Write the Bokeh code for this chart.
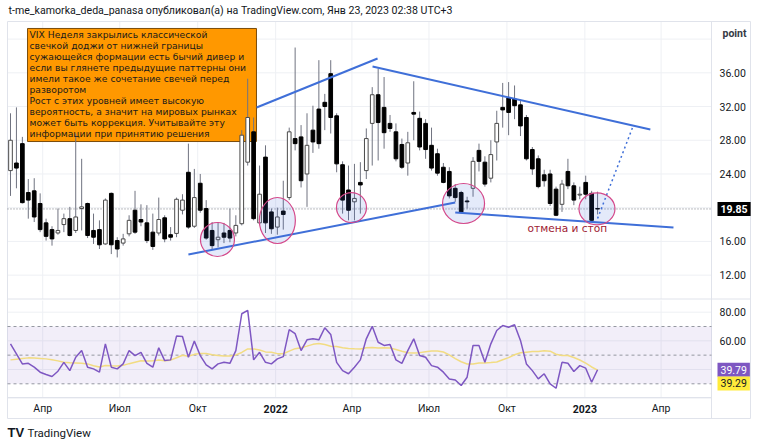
import pandas as pd
from bokeh.plotting import figure
from bokeh.models import Range1d, Label, ColumnDataSource
from bokeh.core.properties import value
from bokeh.embed import file_html
from bokeh.resources import INLINE

# ---------------- data (weekly VIX candles) ----------------
start_date = "2021-02-22"

opens = [24.4, 25.3, 27.6, 21.8, 22.0, 20.5, 18.2, 17.4, 17.0, 18.0,
         18.7, 17.3, 19.9, 20.5, 17.3, 17.4, 15.7, 21.7, 16.1, 15.8,
         16.9, 19.7, 18.6, 18.2, 17.1, 17.0, 18.8, 16.8, 16.95, 19.7,
         24.2, 17.8, 22.9, 19.9, 17.3, 16.2, 17.0, 17.3, 17.0, 18.1,
         25.4, 29.0, 18.2, 26.0, 19.5, 17.7, 19.6, 21.2, 28.2, 28.4,
         24.0, 29.2, 31.7, 32.5, 35.9, 30.9, 25.1, 22.1, 20.7, 23.0,
         24.4, 30.0, 33.4, 31.9, 30.0, 29.0, 27.5, 25.3, 31.3, 30.6,
         30.0, 27.4, 26.4, 24.8, 24.3, 22.3, 21.8, 20.8, 22.3, 26.8,
         25.4, 23.5, 27.8, 31.9, 33.0, 32.9, 32.2, 30.7, 26.9, 25.8,
         23.9, 24.0, 22.2, 20.4, 24.3, 22.6, 21.5, 23.0, 21.7, 19.9]
highs = [31.2, 31.9, 28.4, 23.4, 23.5, 21.7, 18.7, 17.8, 19.9, 19.3,
         20.1, 28.8, 25.8, 20.6, 19.3, 18.5, 21.1, 21.8, 16.5, 16.9,
         19.1, 22.0, 20.4, 20.3, 19.3, 21.2, 19.1, 17.7, 21.2, 21.6,
         27.6, 24.6, 24.0, 20.9, 18.3, 18.3, 18.2, 19.9, 19.1, 29.2,
         35.3, 30.7, 25.0, 27.4, 19.9, 20.0, 23.2, 29.5, 39.0, 29.8,
         31.2, 32.1, 37.5, 33.5, 37.5, 31.2, 25.5, 25.0, 25.2, 25.4,
         29.4, 34.3, 36.5, 35.5, 31.0, 30.0, 28.2, 29.0, 35.0, 31.4,
         30.5, 29.5, 27.0, 25.3, 24.8, 22.8, 22.0, 21.3, 26.0, 27.6,
         26.1, 28.0, 31.5, 34.8, 34.9, 34.5, 32.8, 31.0, 27.2, 26.2,
         24.5, 24.5, 22.5, 23.3, 25.8, 23.0, 22.5, 23.8, 22.0, 21.9]
lows = [21.4, 22.3, 20.5, 18.7, 18.3, 17.1, 16.1, 15.5, 16.8, 17.1,
        16.6, 17.0, 17.3, 16.4, 15.7, 15.1, 15.6, 14.5, 14.1, 15.5,
        16.6, 16.9, 17.8, 15.8, 15.0, 16.7, 15.9, 16.1, 16.5, 19.2,
        17.5, 17.6, 19.4, 16.2, 15.1, 15.3, 15.8, 15.9, 16.6, 17.9,
        25.0, 18.5, 18.0, 17.0, 16.9, 16.8, 17.4, 20.9, 26.8, 22.4,
        20.1, 26.5, 27.0, 29.2, 28.8, 24.2, 19.3, 18.5, 18.5, 19.3,
        23.4, 25.0, 25.6, 27.0, 29.0, 25.5, 24.6, 23.8, 28.0, 26.8,
        25.8, 24.4, 23.8, 22.9, 21.1, 20.7, 19.3, 19.9, 21.3, 24.3,
        22.5, 23.0, 25.6, 29.5, 28.6, 30.5, 28.5, 25.6, 23.9, 22.3,
        22.5, 20.2, 19.0, 19.5, 22.2, 20.3, 21.0, 21.0, 18.3, 19.2]
closes = [28.0, 24.7, 20.6, 20.9, 18.9, 17.4, 16.6, 16.3, 17.3, 18.7,
          16.7, 18.9, 20.1, 16.7, 16.5, 15.6, 20.9, 15.6, 15.1, 16.3,
          18.5, 17.1, 18.3, 16.1, 15.4, 18.6, 16.3, 16.5, 21.0, 20.9,
          17.7, 21.2, 19.7, 16.4, 15.5, 16.5, 16.5, 16.4, 17.9, 28.6,
          30.7, 18.7, 21.6, 18.2, 17.5, 18.9, 19.2, 29.0, 27.6, 23.2,
          27.4, 27.8, 27.6, 32.0, 30.7, 25.2, 20.9, 19.7, 21.1, 22.7,
          28.2, 33.4, 30.1, 28.9, 29.4, 25.8, 24.8, 27.7, 31.1, 27.2,
          26.9, 24.7, 24.1, 23.0, 21.4, 21.2, 19.5, 20.7, 25.5, 25.5,
          22.8, 26.3, 30.0, 31.6, 31.3, 32.1, 29.7, 25.8, 24.6, 22.5,
          23.2, 20.5, 19.1, 22.8, 22.6, 20.9, 21.6, 21.6, 18.5, 19.85]

rsi = [57.9, 50.9, 43.9, 44.3, 41.6, 38.1, 36.5, 35.1, 38.8, 45.0,
       39.2, 48.5, 53.2, 41.6, 40.4, 38.1, 57.9, 41.6, 40.4, 43.9,
       53.2, 49.7, 52.0, 44.3, 41.6, 55.1, 46.2, 46.7, 63.3, 63.0,
       48.5, 59.8, 49.7, 43.2, 40.4, 43.9, 45.0, 44.3, 53.2, 78.9,
       81.3, 46.7, 52.0, 45.0, 43.9, 47.4, 49.0, 67.8, 65.0, 53.2,
       60.7, 61.4, 60.7, 69.1, 64.5, 45.0, 39.2, 37.0, 41.6, 46.7,
       61.4, 70.1, 59.0, 56.8, 57.5, 46.7, 44.3, 53.2, 61.4, 49.7,
       48.5, 42.7, 41.6, 38.1, 33.4, 32.7, 28.8, 34.6, 56.8, 56.8,
       45.0, 57.9, 67.2, 70.7, 69.5, 71.2, 60.3, 43.9, 39.2, 33.4,
       37.0, 29.9, 26.9, 45.0, 44.3, 38.6, 42.7, 40.9, 31.1, 39.79]
rsi_ma_head = [46.7, 47.2, 47.7, 48.1, 48.0, 47.7, 47.4, 46.8, 46.0, 45.0, 44.7, 44.5, 44.3]
rsi_ma_len = 14
rsi_ma_last_label = 39.29

month_dates = ["2021-04-01", "2021-07-01", "2021-10-01", "2022-01-01", "2022-04-01",
               "2022-07-01", "2022-10-01", "2023-01-01", "2023-04-01"]
month_labels = ["Апр", "Июл", "Окт", "2022", "Апр", "Июл", "Окт", "2023", "Апр"]

price_ticks = [12, 16, 24, 28, 32, 36]
price_grid = [12, 16, 20, 24, 28, 32, 36, 40]
rsi_ticks = [60, 80]
rsi_grid = [20, 40, 60, 80]
rsi_levels = [70, 50, 30]

title_text = "t-me_kamorka_deda_panasa опубликовал(а) на TradingView.com, Янв 23, 2023 02:38 UTC+3"
note_lines = ["VIX Неделя закрылись классической",
              "свечкой доджи от нижней границы",
              "сужающейся формации есть бычий дивер и",
              "если вы глянете предыдущие паттерны они",
              "имели такое же сочетание свечей перед",
              "разворотом",
              "Рост с этих уровней имеет высокую",
              "вероятность, а значит на мировых рынках",
              "может быть коррекция. Учитывайте эту",
              "информации при принятию решения"]
stop_text = "отмена и стоп"
unit_text = "point"
brand_text = "TradingView"

# drawings on the chart, in (week index, price)
note_box = dict(left=2.87, right=41.48, top=41.26, bottom=27.85)
trend_x0 = [30.0, 41.5, 61.05, 75.0]
trend_y0 = [14.45, 31.89, 36.75, 19.43]
trend_x1 = [75.0, 61.9, 107.9, 111.8]
trend_y1 = [20.62, 37.7, 29.28, 17.65]
proj_x = [99.0, 104.9]
proj_y = [18.72, 29.51]
circle_x = [34.9, 45.0, 57.5, 76.4, 98.9]
circle_y = [16.23, 18.48, 20.02, 20.5, 19.87]
circle_w = [34, 36, 30, 42, 36]
circle_h = [34, 46, 30, 40, 32]
stop_pos = (87.2, 17.65)

# ---------------- page geometry (pixels) ----------------
W, H = 758, 446
PX_PER_WEEK = 5.93
X_AT_0 = -10 / PX_PER_WEEK            # week index at page x = 0
PRICE_REF, PRICE_REF_PY, PX_PER_PT = 20.0, 207.2, 8.43
RSI_REF, RSI_REF_PY, PX_PER_RSI = 70.0, 326.0, 1.4325
BOX_L, BOX_R, PANE_R = 7, 750, 711
MAIN_T, MAIN_B = 21, 298.5
RSI_T, RSI_B = 300, 397
BOX_B = 418


def X(px):
    return px / PX_PER_WEEK + X_AT_0


def P(py):
    return PRICE_REF + (PRICE_REF_PY - py) / PX_PER_PT


def R(py):
    return RSI_REF - (py - RSI_REF_PY) / PX_PER_RSI


def SY(py):  # screen y (from bottom) for labels
    return H - py


# ---------------- derived ----------------
start = pd.Timestamp(start_date)
weeks = pd.date_range(start, periods=len(closes), freq="7D")
xs = [(d - start).days / 7 for d in weeks]
tick_pos = [(pd.Timestamp(d) - start).days / 7 for d in month_dates]

rsi_ma = list(rsi_ma_head) + list(pd.Series(rsi).rolling(rsi_ma_len).mean().iloc[len(rsi_ma_head):])

up = [c >= o for o, c in zip(opens, closes)]
src = ColumnDataSource(dict(
    x=xs, high=highs, low=lows,
    top=[max(o, c) for o, c in zip(opens, closes)],
    bottom=[min(o, c) for o, c in zip(opens, closes)],
    fill=["#ffffff" if u else "#000000" for u in up],
    line=["#4a4a4a" if u else "#000000" for u in up],
))

TXT = "#131722"
GRID = "#eef0f4"
FRAME = "#e0e3eb"
FONT = "Roboto"

p = figure(width=W, height=H, x_range=Range1d(X(0), X(W)), y_range=Range1d(P(H), P(0)),
           output_backend="svg", toolbar_location=None,
           x_axis_location=None, y_axis_location=None,
           min_border=0, min_border_left=0, min_border_right=0,
           min_border_top=0, min_border_bottom=0)
p.extra_y_ranges = {"rsi": Range1d(R(H), R(0))}
p.outline_line_color = None
p.background_fill_color = "#ffffff"
p.border_fill_color = "#ffffff"
p.xgrid.visible = False
p.ygrid.visible = False

xl, xr = X(BOX_L), X(PANE_R)

# ---- grids ----
p.segment(x0=[xl] * len(price_grid), x1=[xr] * len(price_grid), y0=price_grid, y1=price_grid,
          line_color=GRID, line_width=1)
p.segment(x0=tick_pos, x1=tick_pos, y0=[P(MAIN_B)] * len(tick_pos), y1=[P(MAIN_T)] * len(tick_pos),
          line_color=GRID, line_width=1)
p.segment(x0=[xl] * len(rsi_grid), x1=[xr] * len(rsi_grid), y0=rsi_grid, y1=rsi_grid,
          line_color=GRID, line_width=1, y_range_name="rsi")
p.segment(x0=tick_pos, x1=tick_pos, y0=[R(RSI_B)] * len(tick_pos), y1=[R(RSI_T)] * len(tick_pos),
          line_color=GRID, line_width=1, y_range_name="rsi")

# ---- chart frame lines ----
fx0 = [X(BOX_L), X(BOX_L), X(BOX_L), X(BOX_R), X(BOX_L), X(PANE_R), X(BOX_L)]
fx1 = [X(BOX_R), X(BOX_R), X(BOX_L), X(BOX_R), X(BOX_R), X(PANE_R), X(PANE_R)]
fy0 = [P(MAIN_T), P(BOX_B), P(MAIN_T), P(MAIN_T), P(MAIN_B), P(MAIN_T), P(RSI_B)]
fy1 = [P(MAIN_T), P(BOX_B), P(BOX_B), P(BOX_B), P(MAIN_B), P(BOX_B), P(RSI_B)]
p.segment(x0=fx0, x1=fx1, y0=fy0, y1=fy1, line_color=FRAME, line_width=1)

# ---- note box (under the candles) ----
p.quad(left=[note_box["left"]], right=[note_box["right"]], top=[note_box["top"]],
       bottom=[note_box["bottom"]], fill_color="#ff9800", line_color="#7a4c0c", line_width=1)

# ---- last price line ----
p.segment(x0=[xl], x1=[xr], y0=[closes[-1]], y1=[closes[-1]], line_color="#787b86",
          line_dash="1 2", line_width=1)

# ---- candles ----
p.segment(x0="x", y0="high", x1="x", y1="low", source=src, line_color="#707380", line_width=1)
p.vbar(x="x", top="top", bottom="bottom", width=0.62, fill_color="fill",
       line_color="line", line_width=1, source=src)

# ---- drawings ----
p.segment(x0=trend_x0, y0=trend_y0, x1=trend_x1, y1=trend_y1,
          line_color="#3f6fd8", line_width=2)
p.line(proj_x, proj_y, line_color="#3f6fd8", line_width=1.5, line_dash="2 3")
p.ellipse(x=circle_x, y=circle_y, width=circle_w, height=circle_h,
          width_units="screen", height_units="screen",
          fill_color="#3d6bdc", fill_alpha=0.14, line_color="#d4488a", line_width=1.2)

nl = len(note_lines)
p.text(x=[note_box["left"]] * nl, y=[note_box["top"]] * nl, text=note_lines,
       x_offset=2, y_offset=[6.5 + 10.9 * k for k in range(nl)],
       text_baseline="middle", text_align="left", text_font=value("DejaVu Sans"),
       text_font_size=value("9.2px"), text_color="#1a1a1a")
p.add_layout(Label(x=stop_pos[0], y=stop_pos[1], text=stop_text, text_baseline="middle",
                   text_font="DejaVu Sans", text_font_size="10.6px", text_color="#9e1b32"))

# ---- RSI pane ----
p.quad(left=[xl], right=[xr], bottom=[rsi_levels[-1]], top=[rsi_levels[0]],
       fill_color="#7e57c2", fill_alpha=0.1, line_color=None, y_range_name="rsi")
p.segment(x0=[xl] * 3, x1=[xr] * 3, y0=rsi_levels, y1=rsi_levels, line_color="#9598a1",
          line_dash="3 3", line_width=1, y_range_name="rsi")
p.line(xs, rsi_ma, line_color="#f2dc82", line_width=1.5, y_range_name="rsi")
p.line(xs, rsi, line_color="#7e57c2", line_width=1.5, y_range_name="rsi")

# ---- scale labels ----
LAB_X = 719
for t in price_ticks:
    p.add_layout(Label(x=LAB_X, y=t, x_units="screen", text="%.2f" % t, text_baseline="middle",
                       text_font=FONT, text_font_size="10.5px", text_color=TXT))
for t in rsi_ticks:
    p.add_layout(Label(x=LAB_X, y=t, x_units="screen", y_range_name="rsi", text="%.2f" % t,
                       text_baseline="middle", text_font=FONT, text_font_size="10.5px",
                       text_color=TXT))
for tp, lab in zip(tick_pos, month_labels):
    p.add_layout(Label(x=tp, y=SY(408), y_units="screen", text=lab, text_align="center",
                       text_baseline="middle", text_font=FONT, text_font_size="10.5px",
                       text_font_style="bold" if lab.isdigit() else "normal", text_color=TXT))

p.add_layout(Label(x=722, y=SY(33), x_units="screen", y_units="screen", text=unit_text,
                   text_baseline="middle", text_font=FONT, text_font_size="10.5px",
                   text_font_style="bold", text_color="#363a45"))
p.add_layout(Label(x=717, y=closes[-1], x_units="screen", text="%.2f" % closes[-1],
                   text_baseline="middle", text_font=FONT, text_font_size="10.5px",
                   text_font_style="bold", text_color="#ffffff",
                   background_fill_color="#000000", padding=3))
p.add_layout(Label(x=717, y=rsi[-1], x_units="screen", y_range_name="rsi",
                   text="%.2f" % rsi[-1], text_baseline="middle", text_font=FONT,
                   text_font_size="10.5px", text_color="#ffffff",
                   background_fill_color="#7e57c2", padding=3))
p.add_layout(Label(x=717, y=rsi_ma_last_label, y_offset=-13, x_units="screen",
                   y_range_name="rsi", text="%.2f" % rsi_ma_last_label,
                   text_baseline="middle", text_font=FONT, text_font_size="10.5px",
                   text_color=TXT, background_fill_color="#ffeb3b", padding=3))

# ---- header / footer ----
p.add_layout(Label(x=8, y=SY(9.5), x_units="screen", y_units="screen", text=title_text,
                   text_baseline="middle", text_font=FONT, text_font_size="10.6px",
                   text_color=TXT))
p.add_layout(Label(x=7, y=SY(432), x_units="screen", y_units="screen", text="TV",
                   text_baseline="middle", text_font="Liberation Sans", text_font_size="13px",
                   text_font_style="bold", text_color=TXT))
p.add_layout(Label(x=27, y=SY(432), x_units="screen", y_units="screen", text=brand_text,
                   text_baseline="middle", text_font=FONT, text_font_size="11.5px",
                   text_color=TXT))

open("out.html", "w").write(file_html(p, INLINE))
